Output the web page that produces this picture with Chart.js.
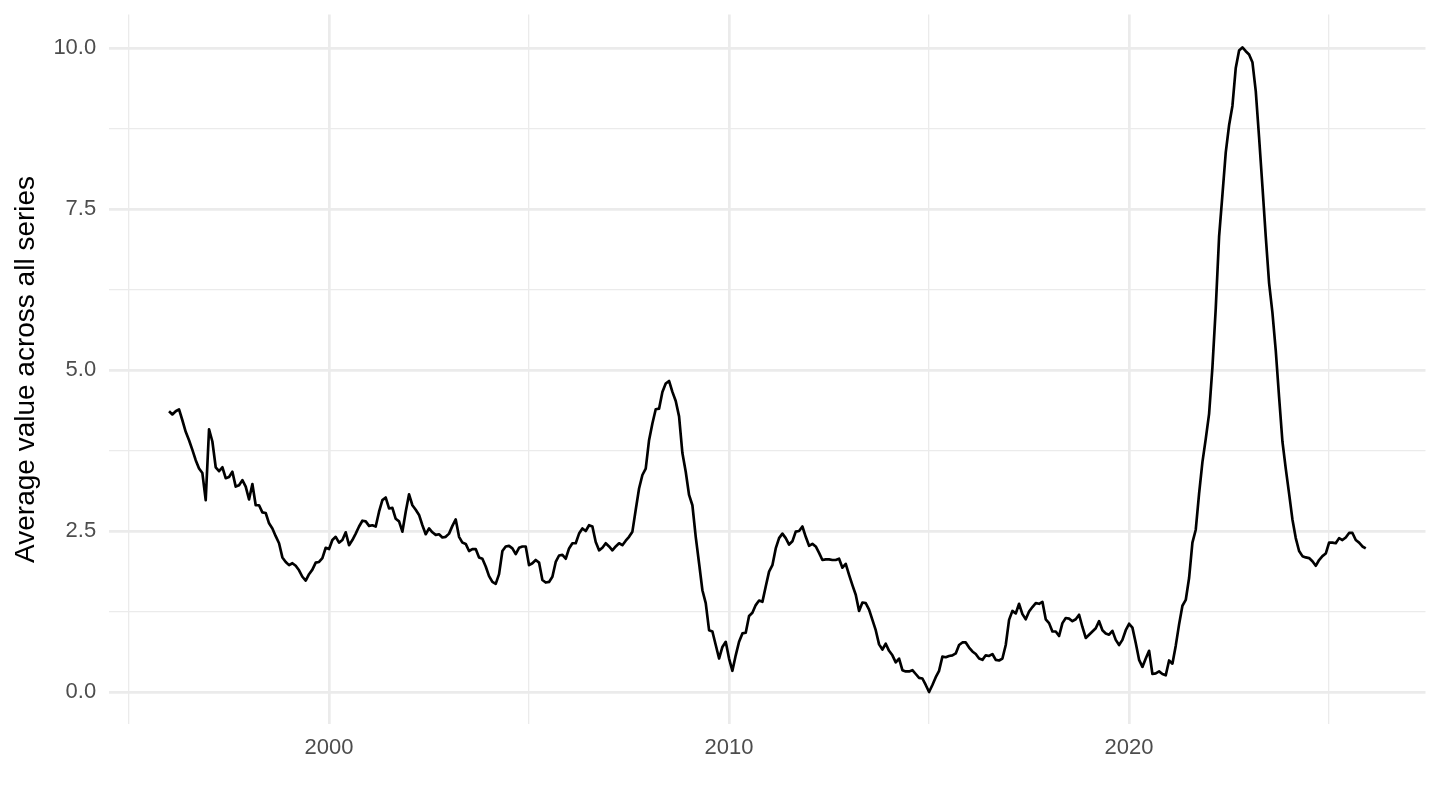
<!DOCTYPE html>
<html>
<head>
<meta charset="utf-8">
<script src="https://cdn.jsdelivr.net/npm/chart.js@4/dist/chart.umd.min.js"></script>
<style>
  html, body { margin: 0; padding: 0; background: #ffffff; }
  #wrap { width: 1440px; height: 810px; }
</style>
</head>
<body>
<div id="wrap"><canvas id="chart" width="1440" height="810"></canvas></div>
<script>
// ---- Data (monthly, starting January 1996) ----
const startYear = 1996;

const values1996to2000 = [
  4.36, 4.31, 4.36, 4.39, 4.22, 4.04, 3.91, 3.76, 3.60, 3.47, 3.40, 2.98,
  4.08, 3.89, 3.49, 3.43, 3.49, 3.32, 3.34, 3.42, 3.19, 3.21, 3.29, 3.19,
  2.99, 3.23, 2.90, 2.90, 2.79, 2.78, 2.62, 2.54, 2.42, 2.31, 2.09, 2.02,
  1.97, 2.00, 1.96, 1.89, 1.79, 1.73, 1.83, 1.90, 2.01, 2.02, 2.08, 2.24,
  2.22, 2.36, 2.41, 2.32, 2.36, 2.48, 2.28, 2.36, 2.46, 2.57, 2.66, 2.65
];
const values2001to2005 = [
  2.58, 2.59, 2.57, 2.80, 2.98, 3.02, 2.85, 2.86, 2.69, 2.65, 2.49, 2.80,
  3.07, 2.90, 2.83, 2.75, 2.59, 2.45, 2.54, 2.48, 2.44, 2.45, 2.40, 2.41,
  2.46, 2.58, 2.68, 2.41, 2.32, 2.30, 2.19, 2.22, 2.22, 2.09, 2.07, 1.95,
  1.80, 1.71, 1.68, 1.83, 2.19, 2.26, 2.27, 2.23, 2.14, 2.24, 2.26, 2.26,
  1.97, 2.00, 2.05, 2.01, 1.74, 1.70, 1.71, 1.79, 2.02, 2.12, 2.13, 2.07
];
const values2006to2010 = [
  2.23, 2.31, 2.31, 2.46, 2.54, 2.50, 2.59, 2.57, 2.33, 2.20, 2.24, 2.31,
  2.26, 2.20, 2.26, 2.31, 2.28, 2.35, 2.41, 2.49, 2.83, 3.16, 3.37, 3.47,
  3.91, 4.17, 4.39, 4.40, 4.66, 4.79, 4.83, 4.66, 4.52, 4.28, 3.71, 3.42,
  3.06, 2.90, 2.41, 2.00, 1.58, 1.38, 0.96, 0.94, 0.73, 0.52, 0.70, 0.78,
  0.52, 0.33, 0.57, 0.78, 0.91, 0.92, 1.18, 1.23, 1.35, 1.42, 1.40, 1.64
];
const values2011to2015 = [
  1.87, 1.97, 2.23, 2.39, 2.46, 2.39, 2.29, 2.34, 2.49, 2.50, 2.57, 2.41,
  2.27, 2.30, 2.26, 2.16, 2.05, 2.06, 2.06, 2.05, 2.05, 2.07, 1.93, 1.99,
  1.82, 1.66, 1.51, 1.26, 1.39, 1.38, 1.28, 1.12, 0.96, 0.74, 0.66, 0.75,
  0.64, 0.57, 0.46, 0.52, 0.34, 0.32, 0.32, 0.34, 0.28, 0.22, 0.21, 0.11,
  0.00, 0.11, 0.23, 0.33, 0.55, 0.54, 0.56, 0.57, 0.60, 0.73, 0.77, 0.77
];
const values2016to2020 = [
  0.69, 0.63, 0.59, 0.52, 0.50, 0.57, 0.56, 0.59, 0.50, 0.49, 0.52, 0.73,
  1.12, 1.26, 1.22, 1.37, 1.21, 1.13, 1.25, 1.32, 1.38, 1.37, 1.40, 1.13,
  1.07, 0.94, 0.94, 0.87, 1.07, 1.15, 1.14, 1.10, 1.13, 1.20, 1.01, 0.84,
  0.89, 0.94, 0.99, 1.10, 0.96, 0.91, 0.89, 0.95, 0.81, 0.73, 0.81, 0.96,
  1.06, 1.00, 0.76, 0.50, 0.39, 0.52, 0.64, 0.28, 0.29, 0.32, 0.28, 0.26
];
const values2021to2025 = [
  0.49, 0.44, 0.72, 1.05, 1.34, 1.43, 1.77, 2.32, 2.52, 3.08, 3.57, 3.93,
  4.32, 5.04, 5.96, 7.07, 7.72, 8.38, 8.80, 9.10, 9.69, 9.96, 10.01, 9.95,
  9.90, 9.78, 9.33, 8.61, 7.85, 7.07, 6.35, 5.89, 5.30, 4.58, 3.89, 3.47,
  3.08, 2.68, 2.39, 2.19, 2.11, 2.09, 2.08, 2.03, 1.96, 2.05, 2.11, 2.15,
  2.32, 2.32, 2.31, 2.39, 2.36, 2.40, 2.47, 2.47, 2.36, 2.32, 2.26, 2.23
];

const xMajorTicks = [2000, 2010, 2020];
const xMinorTicks = [1995, 2005, 2015, 2025];
const yMajorTicks = [0, 2.5, 5, 7.5, 10];
const yMinorTicks = [1.25, 3.75, 6.25, 8.75];
const yAxisTitle = 'Average value across all series';

// ---- Build chart ----
const allValues = [].concat(values1996to2000, values2001to2005, values2006to2010,
                            values2011to2015, values2016to2020, values2021to2025);
const points = allValues.map((v, i) => ({ x: startYear + i / 12, y: v }));

const FONT = '"Liberation Sans", Arial, Helvetica, sans-serif';
const GRID = '#EBEBEB';
const MAJOR_W = 2.67, MINOR_W = 1.33;

new Chart(document.getElementById('chart').getContext('2d'), {
  type: 'line',
  data: {
    datasets: [{
      data: points,
      borderColor: '#000000',
      borderWidth: 2.67,
      pointRadius: 0,
      pointHoverRadius: 0,
      tension: 0,
      fill: false,
      borderJoinStyle: 'round',
      borderCapStyle: 'butt'
    }]
  },
  options: {
    responsive: false,
    animation: false,
    devicePixelRatio: 1,
    events: [],
    layout: { padding: { top: 14.5, right: 14.5, left: 0, bottom: 0 } },
    plugins: { legend: { display: false }, tooltip: { enabled: false } },
    scales: {
      x: {
        type: 'linear',
        min: 1994.504,
        max: 2027.41,
        afterBuildTicks: s => {
          s.ticks = xMinorTicks.concat(xMajorTicks).sort((a, b) => a - b).map(v => ({ value: v }));
        },
        afterFit: s => {
          s.height = 85.7;
          s.paddingLeft = 0; s.paddingRight = 0;
        },
        border: { display: false },
        grid: {
          color: GRID,
          drawTicks: false,
          lineWidth: c => (c.tick && xMajorTicks.includes(c.tick.value)) ? MAJOR_W : MINOR_W
        },
        ticks: {
          autoSkip: false,
          maxRotation: 0,
          minRotation: 0,
          padding: 10,
          color: '#4D4D4D',
          font: { family: FONT, size: 22 },
          callback: v => xMajorTicks.includes(v) ? String(v) : ''
        }
      },
      y: {
        type: 'linear',
        min: -0.501,
        max: 10.52,
        afterBuildTicks: s => {
          s.ticks = yMajorTicks.concat(yMinorTicks).sort((a, b) => a - b).map(v => ({ value: v }));
        },
        afterFit: s => {
          s.width = 109.2;
          s.paddingTop = 0; s.paddingBottom = 0;
        },
        border: { display: false },
        grid: {
          color: GRID,
          drawTicks: false,
          lineWidth: c => (c.tick && yMajorTicks.includes(c.tick.value)) ? MAJOR_W : MINOR_W
        },
        ticks: {
          autoSkip: false,
          padding: 13,
          color: '#4D4D4D',
          font: { family: FONT, size: 22 },
          callback: v => yMajorTicks.includes(v) ? v.toFixed(1) : ''
        },
        title: {
          display: true,
          text: yAxisTitle,
          color: '#000000',
          font: { family: FONT, size: 28 },
          padding: { top: 9.5, bottom: 0 }
        }
      }
    }
  }
});
</script>
</body>
</html>
